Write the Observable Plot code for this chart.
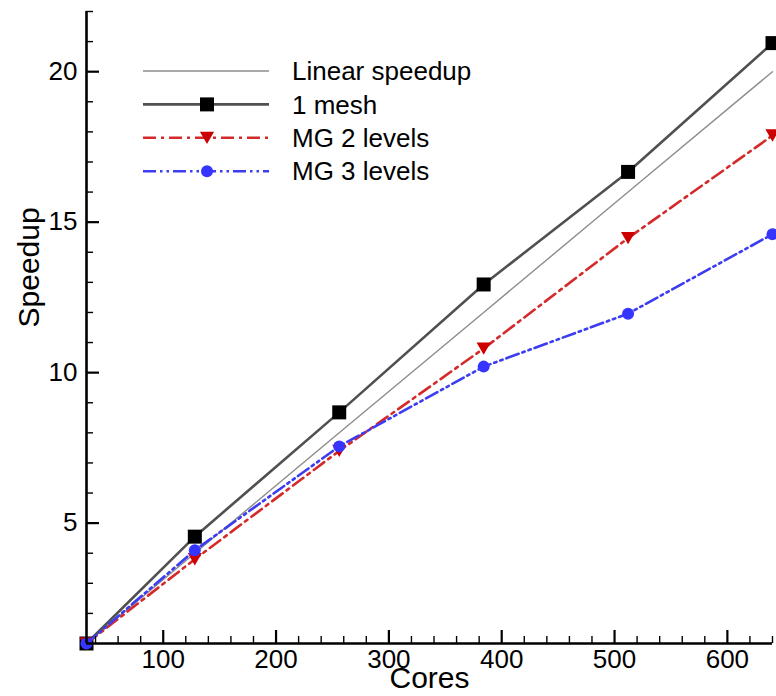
<!DOCTYPE html>
<html>
<head>
<meta charset="utf-8">
<script src="https://cdn.jsdelivr.net/npm/d3@7"></script>
<script src="https://cdn.jsdelivr.net/npm/@observablehq/plot@0.6"></script>
<style>
  html, body { margin: 0; padding: 0; background: #fff; }
  #chart { position: relative; width: 776px; height: 696px; }
</style>
</head>
<body>
<div id="chart"></div>
<script>
const cores  = [32, 128, 256, 384, 512, 640];
const linear = [1, 4, 8, 12, 16, 20];
const mesh1  = [1, 4.55, 8.68, 12.93, 16.67, 20.95];
const mg2    = [1, 3.8, 7.4, 10.8, 14.47, 17.88];
const mg3    = [1, 4.1, 7.55, 10.2, 11.96, 14.6];

const seriesNames = ["Linear speedup", "1 mesh", "MG 2 levels", "MG 3 levels"];
const xMajorTicks = [100, 200, 300, 400, 500, 600];
const xMinorTicks = [40, 60, 80, 120, 140, 160, 180, 220, 240, 260, 280, 320, 340, 360, 380, 420, 440, 460, 480, 520, 540, 560, 580, 620, 640];
const yMajorTicks = [5, 10, 15, 20];
const yMinorTicks = [2, 3, 4, 6, 7, 8, 9, 11, 12, 13, 14, 16, 17, 18, 19, 21, 22];

const FONT = "'Liberation Sans', Arial, Helvetica, sans-serif";
const mk = (vals) => cores.map((c, i) => ({x: c, y: vals[i]}));

const triDown = {
  draw(ctx, size) {
    const w = Math.sqrt(size);
    const h = w * 0.87;
    ctx.moveTo(-w / 2, -h / 2);
    ctx.lineTo(w / 2, -h / 2);
    ctx.lineTo(0, h / 2);
    ctx.closePath();
  }
};

const styles = [
  {stroke: "#8c8c8c", strokeWidth: 1.4, dash: null},
  {stroke: "#505050", strokeWidth: 2.6, dash: null},
  {stroke: "#d42a2a", strokeWidth: 2.6, dash: "13,5,3,5"},
  {stroke: "#3c3cf0", strokeWidth: 2.6, dash: "13,4,2.5,4,2.5,4"}
];

const chart = Plot.plot({
  width: 776,
  height: 696,
  marginLeft: 86,
  marginRight: 4,
  marginTop: 11,
  marginBottom: 53,
  x: {domain: [32, 640]},
  y: {domain: [1, 22]},
  style: {fontFamily: FONT, fontSize: "26px", color: "#000", background: "#fff"},
  marks: [
    Plot.line(mk(linear), {x: "x", y: "y", stroke: styles[0].stroke, strokeWidth: styles[0].strokeWidth}),
    Plot.line(mk(mesh1), {x: "x", y: "y", stroke: styles[1].stroke, strokeWidth: styles[1].strokeWidth}),
    Plot.dot(mk(mesh1), {x: "x", y: "y", symbol: "square", r: 7.9, fill: "#000", stroke: "none"}),
    Plot.line(mk(mg2), {x: "x", y: "y", stroke: styles[2].stroke, strokeWidth: styles[2].strokeWidth, strokeDasharray: styles[2].dash}),
    Plot.dot(mk(mg2), {x: "x", y: "y", symbol: triDown, r: 8, fill: "#cc0000", stroke: "none"}),
    Plot.line(mk(mg3), {x: "x", y: "y", stroke: styles[3].stroke, strokeWidth: styles[3].strokeWidth, strokeDasharray: styles[3].dash}),
    Plot.dot(mk(mg3), {x: "x", y: "y", symbol: "circle", r: 6, fill: "#3535ff", stroke: "none"}),
    // inward ticks
    Plot.axisX(xMajorTicks, {tickSize: -13, tickFormat: () => "", label: null, strokeWidth: 2.2}),
    Plot.axisX(xMinorTicks, {tickSize: -7, tickFormat: () => "", label: null, strokeWidth: 1.4}),
    Plot.axisY(yMajorTicks, {tickSize: -13, tickFormat: () => "", label: null, strokeWidth: 2.2}),
    Plot.axisY(yMinorTicks, {tickSize: -7, tickFormat: () => "", label: null, strokeWidth: 1.4}),
    // tick labels
    Plot.axisX(xMajorTicks, {tickSize: 0, tickPadding: 6, label: null, fontSize: 26}),
    Plot.axisY(yMajorTicks, {tickSize: 0, tickPadding: 9, label: null, fontSize: 26}),
    // axis lines
    Plot.ruleY([1], {stroke: "#000", strokeWidth: 2.6}),
    Plot.ruleX([32], {stroke: "#000", strokeWidth: 2.6}),
    // axis titles
    Plot.text(["Cores"], {frameAnchor: "bottom", dy: 44, fontSize: 30, fill: "#000"}),
    Plot.text(["Speedup"], {frameAnchor: "left", dx: -57, rotate: -90, fontSize: 30, fill: "#000"})
  ]
});

document.getElementById("chart").appendChild(chart);

// Legend (inside plot, top-left)
const svg = d3.select(chart);
const lg = svg.append("g").attr("transform", "translate(143,71)");
const rowH = 33.4;
const markerDraw = [
  null,
  (g) => g.append("path").attr("d", d3.symbol(d3.symbolSquare, Math.PI * 7.9 * 7.9)()).attr("fill", "#000"),
  (g) => g.append("path").attr("d", d3.symbol(triDown, Math.PI * 64)()).attr("fill", "#cc0000"),
  (g) => g.append("circle").attr("r", 6).attr("fill", "#3535ff")
];
seriesNames.forEach((name, i) => {
  const row = lg.append("g").attr("transform", `translate(0,${i * rowH})`);
  row.append("line").attr("x1", 0).attr("x2", 126).attr("y1", 0).attr("y2", 0)
    .attr("stroke", styles[i].stroke).attr("stroke-width", styles[i].strokeWidth)
    .attr("stroke-dasharray", styles[i].dash);
  if (markerDraw[i]) markerDraw[i](row.append("g").attr("transform", "translate(64,0)"));
  row.append("text").attr("x", 149).attr("y", 0).attr("dy", "0.35em")
    .attr("text-anchor", "start")
    .attr("font-family", FONT).attr("font-size", 26).attr("fill", "#000").text(name);
});
</script>
</body>
</html>
